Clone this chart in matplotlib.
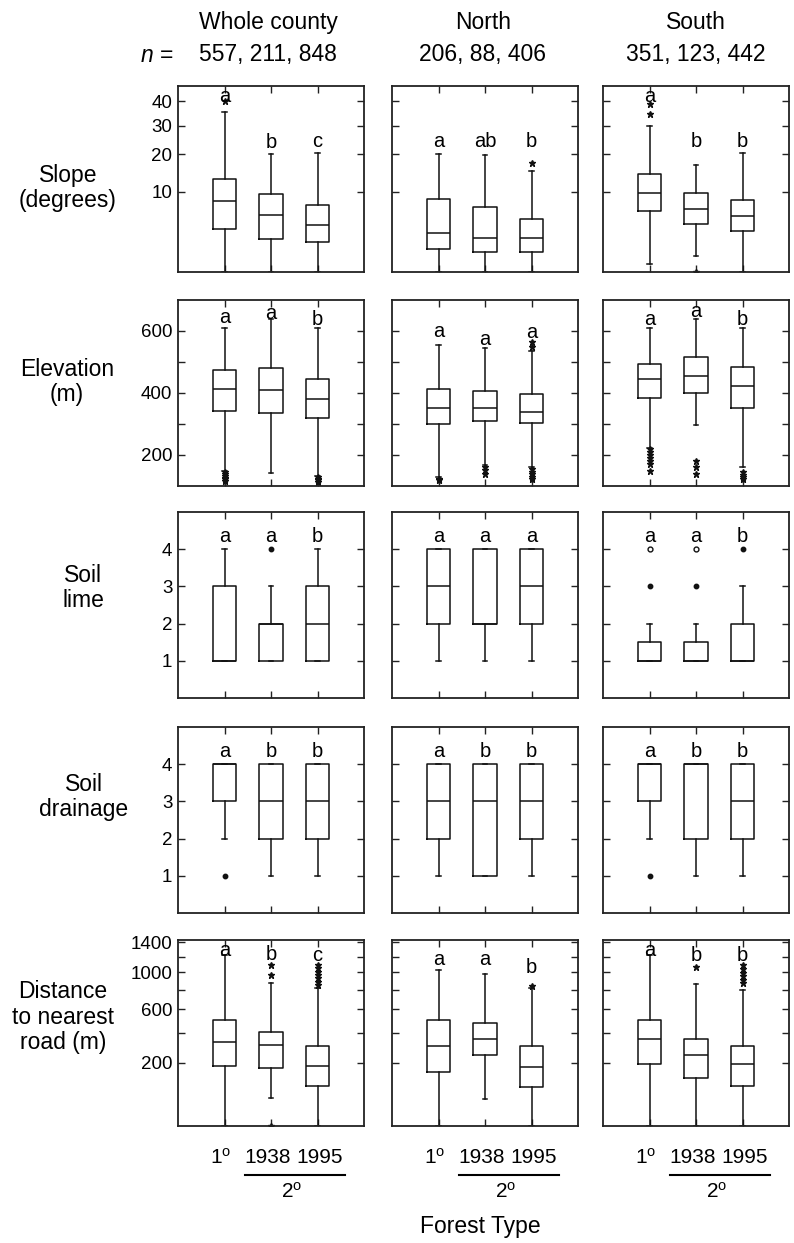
import numpy as np
import matplotlib
matplotlib.use("Agg")
import matplotlib.pyplot as plt

plt.rcParams['font.family'] = ['Liberation Sans', 'DejaVu Sans']
plt.rcParams['mathtext.fontset'] = 'custom'
plt.rcParams['mathtext.rm'] = 'Liberation Sans'
plt.rcParams['mathtext.it'] = 'Liberation Sans:italic'

regions = ['Whole county', 'North', 'South']
sample_sizes = ['557, 211, 848', '206, 88, 406', '351, 123, 442']
forest_types = ['1$^{\\mathrm{o}}$', '1938', '1995']
row_labels = ['Slope\n(degrees)', 'Elevation\n(m)', 'Soil\nlime',
              'Soil\ndrainage', 'Distance\nto nearest\nroad (m)']

# every table below is [region][forest type]
slope_lo = [[0, 0, 0], [0, 0, 0], [0.3, 0.76, 0]]
slope_q1 = [[3.4, 2.2, 1.9], [1.3, 1.05, 1.05], [6.1, 4.05, 3.1]]
slope_med = [[8.0, 5.5, 3.9], [2.9, 2.3, 2.35], [9.8, 6.5, 5.4]]
slope_q3 = [[13.0, 9.6, 7.2], [8.4, 6.9, 4.9], [14.3, 9.7, 8.3]]
slope_hi = [[35.5, 20.0, 20.5], [20.0, 19.8, 15.2], [30.0, 16.9, 20.5]]
slope_out = [[[40], [], []], [[], [], [17.5]], [[34.6, 38.8], [0], []]]
slope_open = [[[], [], []], [[], [], []], [[], [], []]]
slope_sig = [['a', 'b', 'c'], ['a', 'ab', 'b'], ['a', 'b', 'b']]
slope_sig_y = [[39.8, 21.9, 22.4], [22.3, 22.3, 22.3], [39.8, 22.3, 22.3]]

elev_lo = [[147, 143, 133], [128, 168, 160], [224, 298, 162]]
elev_q1 = [[342, 336, 318], [299, 310, 302], [385, 399, 352]]
elev_med = [[414, 411, 381], [353, 353, 340], [446, 454, 424]]
elev_q3 = [[473, 480, 444], [412, 406, 397], [494, 517, 485]]
elev_hi = [[609, 638, 609], [555, 544, 535], [609, 638, 609]]
elev_out = [[[144, 138, 132, 126, 121, 117], [], [128, 123, 118, 114]],
            [[124, 120], [160, 150, 140], [566, 548, 155, 146, 138, 130, 124]],
            [[219, 210, 200, 190, 180, 171, 149], [181, 160, 138], [144, 135, 128, 122]]]
elev_open = [[[], [], []], [[], [], []], [[], [], []]]
elev_sig = [['a', 'a', 'b'], ['a', 'a', 'a'], ['a', 'a', 'b']]
elev_sig_y = [[625, 638, 620], [580, 555, 577], [620, 644, 620]]

lime_lo = [[1, 1, 1], [1, 1, 1], [1, 1, 1]]
lime_q1 = [[1, 1, 1], [2, 2, 2], [1, 1, 1]]
lime_med = [[1, 2, 2], [3, 2, 3], [1, 1, 1]]
lime_q3 = [[3, 2, 3], [4, 4, 4], [1.5, 1.5, 2]]
lime_hi = [[4, 3, 4], [4, 4, 4], [2, 2, 3]]
lime_out = [[[], [4], []], [[], [], []], [[3], [3], [4]]]
lime_open = [[[], [], []], [[], [], []], [[4], [4], []]]
lime_sig = [['a', 'a', 'b'], ['a', 'a', 'a'], ['a', 'a', 'b']]
lime_sig_y = [[4.2, 4.2, 4.2], [4.2, 4.2, 4.2], [4.2, 4.2, 4.2]]

drain_lo = [[2, 1, 1], [1, 1, 1], [2, 1, 1]]
drain_q1 = [[3, 2, 2], [2, 1, 2], [3, 2, 2]]
drain_med = [[4, 3, 3], [3, 3, 3], [4, 4, 3]]
drain_q3 = [[4, 4, 4], [4, 4, 4], [4, 4, 4]]
drain_hi = [[4, 4, 4], [4, 4, 4], [4, 4, 4]]
drain_out = [[[1], [], []], [[], [], []], [[1], [], []]]
drain_open = [[[], [], []], [[], [], []], [[], [], []]]
drain_sig = [['a', 'b', 'b'], ['a', 'b', 'b'], ['a', 'b', 'b']]
drain_sig_y = [[4.2, 4.2, 4.2], [4.2, 4.2, 4.2], [4.2, 4.2, 4.2]]

road_lo = [[0, 53, 0], [0, 50, 0], [0, 0, 0]]
road_q1 = [[184, 170, 93], [152, 243, 89], [193, 126, 91]]
road_med = [[332, 307, 184], [302, 351, 179], [349, 243, 193]]
road_q3 = [[505, 406, 304], [500, 480, 302], [500, 349, 304]]
road_hi = [[1222, 874, 815], [1028, 980, 815], [1222, 862, 799]]
road_out = [[[], [1091, 967, 0], [1090, 1050, 1010, 970, 930, 890, 850]],
            [[], [], [840]],
            [[], [1062], [1090, 1040, 990, 950, 910, 870]]]
road_open = [[[], [], []], [[], [], []], [[], [], []]]
road_sig = [['a', 'b', 'c'], ['a', 'a', 'b'], ['a', 'b', 'b']]
road_sig_y = [[1209, 1156, 1143], [1091, 1091, 988], [1209, 1143, 1143]]

variables = [
    (slope_lo, slope_q1, slope_med, slope_q3, slope_hi, slope_out, slope_open, slope_sig, slope_sig_y),
    (elev_lo, elev_q1, elev_med, elev_q3, elev_hi, elev_out, elev_open, elev_sig, elev_sig_y),
    (lime_lo, lime_q1, lime_med, lime_q3, lime_hi, lime_out, lime_open, lime_sig, lime_sig_y),
    (drain_lo, drain_q1, drain_med, drain_q3, drain_hi, drain_out, drain_open, drain_sig, drain_sig_y),
    (road_lo, road_q1, road_med, road_q3, road_hi, road_out, road_open, road_sig, road_sig_y),
]


def sqrt_scale(shift):
    return (lambda x: np.sqrt(np.clip(np.asarray(x, float) + shift, 0, None)),
            lambda y: np.asarray(y, float) ** 2 - shift)


# scale, limits, major ticks, minor ticks per row
row_axes = [
    (sqrt_scale(0.15), (0, 47.1), [10, 20, 30, 40], []),
    (None, (100, 700), [200, 400, 600], [300, 500]),
    (None, (0, 5), [1, 2, 3, 4], []),
    (None, (0, 5), [1, 2, 3, 4], []),
    (sqrt_scale(4.5), (0, 1433), [200, 600, 1000, 1400], [400, 800, 1200]),
]

W, H = 794, 1243
fig = plt.figure(figsize=(W / 100, H / 100), dpi=100)

col_left = [178, 392, 603]
row_top = [86, 300, 512, 727, 940]
size = 186
xpos = [1, 2, 3]
ink = '#111111'

for r, var in enumerate(variables):
    lo, q1, med, q3, hi, out, open_out, sig, sig_y = var
    funcs, ylim, major, minor = row_axes[r]
    marker = '*' if r in (0, 1, 4) else 'o'
    msize = 4.5 if marker == '*' else 3.2
    for c in range(3):
        ax = fig.add_axes([col_left[c] / W, 1 - (row_top[r] + size) / H, size / W, size / H])
        if funcs is not None:
            ax.set_yscale('function', functions=funcs)
        stats = []
        for k in range(3):
            stats.append(dict(whislo=lo[c][k], q1=q1[c][k], med=med[c][k], q3=q3[c][k],
                              whishi=hi[c][k], fliers=np.array(out[c][k], float)))
        ax.bxp(stats, positions=xpos, widths=0.5, capwidths=0.1,
               boxprops=dict(color=ink, linewidth=1.1),
               medianprops=dict(color=ink, linewidth=1.1),
               whiskerprops=dict(color=ink, linewidth=1.1),
               capprops=dict(color=ink, linewidth=1.1),
               flierprops=dict(marker=marker, markersize=msize, markerfacecolor=ink,
                               markeredgecolor=ink, linestyle='none'))
        for k in range(3):
            if open_out[c][k]:
                ax.plot([xpos[k]] * len(open_out[c][k]), open_out[c][k], 'o', ms=3.5,
                        mfc='white', mec=ink, mew=1.0)
            ax.text(xpos[k], sig_y[c][k], sig[c][k], ha='center', va='baseline', fontsize=14.5)
        ax.set_xlim(0, 4)
        ax.set_ylim(*ylim)
        ax.set_xticks(xpos)
        ax.set_xticklabels([])
        ax.set_yticks(major)
        ax.set_yticks(minor, minor=True)
        ax.tick_params(axis='both', which='both', direction='in', top=True, right=True,
                       length=5, width=1, labelsize=13.5, pad=4, color='#222222')
        if c != 0:
            ax.set_yticklabels([])
        for sp in ax.spines.values():
            sp.set_linewidth(1.3)
            sp.set_color('#222222')

        if r == len(variables) - 1:
            tr = ax.get_xaxis_transform()
            for x, lab, dx in zip(xpos, forest_types, [-0.08, -0.08, 0.05]):
                ax.text(x + dx, -0.172, lab, transform=tr, ha='center', va='center', fontsize=15)
            ax.plot([1.45, 3.6], [-0.263, -0.263], transform=tr, color='black', lw=1.5,
                    clip_on=False)
            ax.text(2.45, -0.353, '2$^{\\mathrm{o}}$', transform=tr, ha='center', va='center',
                    fontsize=15)

# column headings and sample sizes
col_center = [268, 483, 696]
for c in range(3):
    fig.text(col_center[c] / W, 1 - 22.5 / H, regions[c], ha='center', va='center', fontsize=16.5)
    fig.text(col_center[c] / W, 1 - 55 / H, sample_sizes[c], ha='center', va='center',
             fontsize=16.5)
fig.text(157 / W, 1 - 55 / H, '$n$ =', ha='center', va='center', fontsize=16.5)

# row labels
label_pos = [(68, 188), (67, 382), (83, 588), (84, 797), (63, 1017)]
for (x, y), lab in zip(label_pos, row_labels):
    fig.text(x / W, 1 - y / H, lab, ha='center', va='center', fontsize=16.5,
             multialignment='center', linespacing=1.15)

fig.text(480 / W, 1 - 1227 / H, 'Forest Type', ha='center', va='center', fontsize=16.5)

fig.savefig('out.png', dpi=100)
